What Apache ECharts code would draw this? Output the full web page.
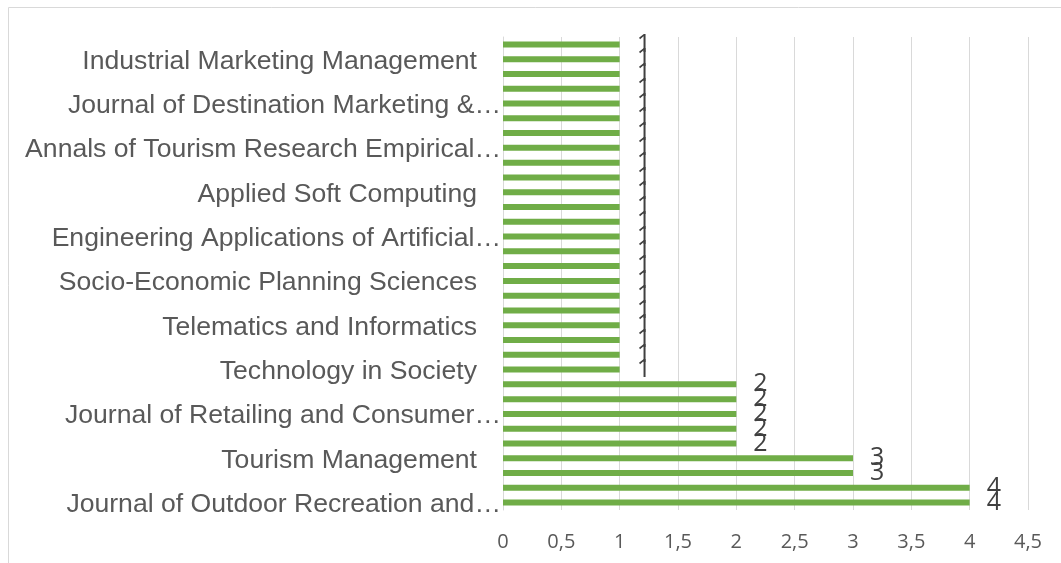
<!DOCTYPE html>
<html><head><meta charset="utf-8">
<script src="https://cdn.jsdelivr.net/npm/echarts@6/dist/echarts.min.js"></script>
<style>html,body{margin:0;padding:0;background:#fff}#c{width:1061px;height:563px}</style>
</head><body><div id="c"></div>
<script>
// Categories listed bottom-to-top (ECharts category order)
const categories = [
  "Journal of Outdoor Recreation and…",
  "Current Issues in Tourism",
  "Sustainability",
  "Tourism Management",
  "Journal of Travel Research",
  "International Journal of Hospitality Management",
  "Journal of Retailing and Consumer…",
  "Information Processing & Management",
  "Expert Systems with Applications",
  "Technology in Society",
  "Journal of Business Research",
  "Technological Forecasting and Social Change",
  "Telematics and Informatics",
  "Computers in Human Behavior",
  "Decision Support Systems",
  "Socio-Economic Planning Sciences",
  "Journal of Cleaner Production",
  "Knowledge-Based Systems",
  "Engineering Applications of Artificial…",
  "Neurocomputing",
  "Information Sciences",
  "Applied Soft Computing",
  "Tourism Management Perspectives",
  "Journal of Hospitality and Tourism Management",
  "Annals of Tourism Research Empirical…",
  "Annals of Tourism Research",
  "International Journal of Information Management",
  "Journal of Destination Marketing &…",
  "Electronic Commerce Research and Applications",
  "Journal of Air Transport Management",
  "Industrial Marketing Management",
  "Cities"
];
const values = [4,4,3,3,2,2,2,2,2,1,1,1,1,1,1,1,1,1,1,1,1,1,1,1,1,1,1,1,1,1,1,1];
const xTicks = [0,0.5,1,1.5,2,2.5,3,3.5,4,4.5];

const chart = echarts.init(document.getElementById('c'));
chart.setOption({
  animation:false,
  graphic:[{type:'rect',shape:{x:8.5,y:7.5,width:1100,height:600},style:{fill:'none',stroke:'#D9D9D9',lineWidth:1},silent:true}],
  grid:{left:503,right:33,top:37,bottom:53,containLabel:false},
  xAxis:{type:'value',min:xTicks[0],max:xTicks[xTicks.length-1],interval:xTicks[1]-xTicks[0],
    axisLine:{show:false},axisTick:{show:false},
    splitLine:{lineStyle:{color:'#D9D9D9',width:1}},
    axisLabel:{margin:22,color:'#595959',fontSize:20,fontFamily:'Open Sans',
      formatter:v=>String(v).replace('.',',')}},
  yAxis:{type:'category',data:categories,
    axisLine:{show:true,lineStyle:{color:'#D9D9D9'}},axisTick:{show:false},
    axisLabel:{interval:2,margin:2,color:'#595959',fontSize:26.6,fontFamily:'Liberation Sans',
      formatter:v=> v.endsWith('…') ? '{q|'+v+'}' : '{p|'+v+'}',
      rich:{p:{padding:[4,24,0,0],fontSize:26.6,fontFamily:'Liberation Sans',color:'#595959'},
            q:{padding:[4,0,0,0],fontSize:26.6,fontFamily:'Liberation Sans',color:'#595959'}}}},
  series:[{type:'bar',data:values,barWidth:6,itemStyle:{color:'#70AD47'},
    label:{show:true,position:'right',distance:17,color:'#404040',fontSize:25,fontFamily:'Open Sans'}}]
});
</script></body></html>
